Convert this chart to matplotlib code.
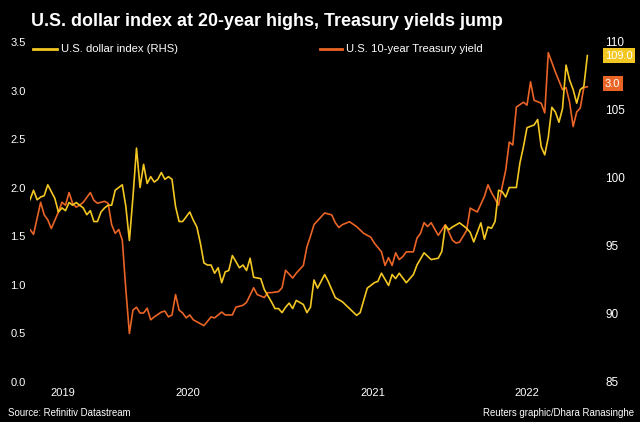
import numpy as np
import pandas as pd
import matplotlib
matplotlib.use('Agg')
import matplotlib.pyplot as plt
from matplotlib.lines import Line2D

# weekly readings, week number counted from start_date
start_date = '2019-08-26'

ust_weeks = [0, 1, 3, 4, 5, 6, 8, 9, 10, 11, 12, 13, 14, 15, 17, 18, 19, 21, 22, 23,
             24, 25, 26, 27, 28, 29, 30, 31, 32, 33, 34, 35, 37, 38, 39, 40, 41, 42, 43, 44,
             45, 46, 47, 49, 51, 52, 54, 55, 57, 58, 60, 61, 63, 64, 66, 67, 68, 70, 71, 72,
             74, 75, 77, 78, 79, 80, 82, 83, 85, 86, 87, 88, 90, 92, 94, 96, 97, 99, 100, 101,
             102, 103, 104, 105, 106, 108, 109, 110, 111, 112, 113, 115, 117, 119, 120, 121, 123, 124, 125, 126,
             128, 129, 130, 132, 133, 134, 135, 136, 137, 139, 140, 141, 142, 144, 145, 146, 147, 148, 150, 151,
             152, 153, 154, 155, 156, 157]
ust_vals = [1.57, 1.52, 1.85, 1.72, 1.67, 1.58, 1.75, 1.85, 1.82, 1.95, 1.84, 1.80, 1.82, 1.85, 1.95, 1.87, 1.84, 1.86, 1.84, 1.62,
            1.53, 1.57, 1.46, 0.95, 0.50, 0.74, 0.77, 0.71, 0.71, 0.76, 0.64, 0.67, 0.72, 0.73, 0.67, 0.69, 0.90, 0.74, 0.71, 0.66,
            0.69, 0.64, 0.62, 0.58, 0.67, 0.66, 0.72, 0.69, 0.69, 0.77, 0.79, 0.82, 0.97, 0.90, 0.87, 0.92, 0.92, 0.93, 0.97, 1.15,
            1.07, 1.12, 1.20, 1.39, 1.50, 1.62, 1.70, 1.74, 1.72, 1.64, 1.59, 1.62, 1.65, 1.60, 1.53, 1.49, 1.43, 1.34, 1.20, 1.28,
            1.20, 1.33, 1.26, 1.29, 1.34, 1.34, 1.48, 1.53, 1.64, 1.60, 1.64, 1.51, 1.62, 1.46, 1.43, 1.44, 1.56, 1.79, 1.77, 1.75,
            1.91, 2.03, 1.95, 1.82, 2.01, 2.18, 2.47, 2.44, 2.83, 2.88, 2.85, 3.09, 2.90, 2.87, 2.77, 3.39, 3.29, 3.19, 3.01, 3.03,
            2.88, 2.63, 2.78, 2.82, 3.03, 3.04]

dxy_weeks = [0, 1, 2, 3, 4, 5, 6, 7, 8, 9, 10, 11, 12, 13, 14, 15, 16, 17, 18, 19,
             20, 21, 22, 23, 24, 25, 26, 27, 28, 29, 30, 31, 32, 33, 34, 35, 36, 37, 38, 39,
             40, 41, 42, 43, 45, 46, 47, 48, 49, 50, 51, 52, 53, 54, 55, 56, 57, 59, 60, 61,
             62, 63, 65, 66, 68, 69, 70, 71, 72, 73, 74, 75, 77, 78, 79, 80, 81, 83, 84, 85,
             86, 88, 90, 92, 93, 94, 95, 97, 98, 99, 101, 102, 103, 104, 106, 108, 109, 111, 113, 115,
             116, 117, 118, 119, 121, 123, 124, 125, 126, 127, 128, 129, 130, 131, 132, 133, 134, 135, 137, 138,
             139, 140, 142, 143, 144, 145, 146, 147, 148, 149, 150, 151, 152, 153, 154, 155, 156, 157]
dxy_vals = [98.4, 99.1, 98.4, 98.6, 98.7, 99.5, 99.0, 98.5, 97.5, 97.8, 97.6, 98.2, 98.0, 98.2, 98.0, 97.8, 97.3, 97.6, 96.8, 96.8,
            97.5, 97.8, 98.0, 98.0, 99.1, 99.3, 99.5, 97.9, 95.4, 98.6, 102.2, 99.3, 101.0, 99.6, 100.1, 99.7, 99.9, 100.4, 99.9, 100.1,
            99.9, 97.9, 96.8, 96.8, 97.5, 96.9, 96.4, 95.2, 93.75, 93.6, 93.6, 93.0, 93.4, 92.3, 93.1, 93.2, 94.3, 93.4, 93.6, 93.2,
            94.1, 92.7, 92.6, 91.8, 90.9, 90.4, 90.4, 90.1, 90.5, 90.8, 90.4, 91.0, 90.7, 90.1, 90.5, 92.5, 91.9, 92.9, 92.4, 91.8,
            91.2, 90.9, 90.4, 89.9, 90.1, 91.0, 91.9, 92.3, 92.4, 93.0, 92.1, 92.9, 92.6, 93.0, 92.3, 92.9, 93.6, 94.5, 94.0, 94.1,
            94.6, 96.5, 96.2, 96.4, 96.7, 96.3, 96.0, 95.3, 96.0, 96.7, 95.5, 96.4, 96.3, 96.8, 99.1, 99.0, 98.6, 99.3, 99.3, 101.1,
            102.3, 103.7, 103.9, 104.3, 102.3, 101.7, 103.0, 105.2, 104.85, 104.1, 105.1, 108.3, 107.2, 106.5, 105.5, 106.5, 106.7, 109.0]

left_ticks = [0.0, 0.5, 1.0, 1.5, 2.0, 2.5, 3.0, 3.5]
right_ticks = [85, 90, 95, 100, 105, 110]

title = 'U.S. dollar index at 20-year highs, Treasury yields jump'
source = 'Source: Refinitiv Datastream'
credit = 'Reuters graphic/Dhara Ranasinghe'

YELLOW = '#f3c722'
ORANGE = '#ea6426'
NARROW = ['Liberation Sans Narrow', 'Liberation Sans', 'DejaVu Sans']


def to_dates(weeks):
    return pd.Timestamp(start_date) + pd.to_timedelta(np.array(weeks) * 7, unit='D')


def main():
    ust_dates = to_dates(ust_weeks)
    dxy_dates = to_dates(dxy_weeks)
    first = min(ust_dates[0], dxy_dates[0])
    last = max(ust_dates[-1], dxy_dates[-1])

    fig = plt.figure(figsize=(6.4, 4.22), dpi=100, facecolor='black')
    ax = fig.add_axes([30 / 640, 40 / 422, 560 / 640, 340 / 422])
    ax.set_facecolor('black')
    ax.plot(ust_dates, ust_vals, color=ORANGE, lw=1.2)
    ax2 = ax.twinx()
    ax2.plot(dxy_dates, dxy_vals, color=YELLOW, lw=1.2)

    ax.set_ylim(0, 3.5)
    ax2.set_ylim(85, 110)
    ax.set_xlim(first, first + pd.Timedelta(days=560 / 3.55 * 7))

    ax.set_yticks(left_ticks)
    ax.set_yticklabels([f'{t:.1f}' for t in left_ticks])
    ax2.set_yticks(right_ticks)
    ax2.set_yticklabels([str(t) for t in right_ticks])

    # year labels sit in the middle of the visible part of each year
    mids, labels = [], []
    for yr in range(first.year, last.year + 1):
        a = max(first, pd.Timestamp(yr, 1, 1))
        b = min(last, pd.Timestamp(yr + 1, 1, 1))
        mids.append(a + (b - a) / 2)
        labels.append(str(yr))
    ax.set_xticks(mids)
    ax.set_xticklabels(labels)

    for a in (ax, ax2):
        for s in a.spines.values():
            s.set_visible(False)
    ax.tick_params(axis='y', length=0, colors='white', labelsize=8, pad=3)
    ax.tick_params(axis='x', length=0, colors='white', labelsize=8, pad=4)
    ax2.tick_params(axis='y', length=0, colors='white', labelsize=8.5, pad=11)
    for lab in ax.get_xticklabels() + ax.get_yticklabels() + ax2.get_yticklabels():
        lab.set_family(NARROW)

    # last value boxes
    ax2.annotate(f'{dxy_vals[-1]:.1f}', xy=(1, dxy_vals[-1]), xycoords=('axes fraction', 'data'),
                 xytext=(15, 0), textcoords='offset pixels', ha='left', va='center',
                 color='white', fontsize=8, family=NARROW,
                 bbox=dict(boxstyle='square,pad=0.2', fc=YELLOW, ec='none'))
    ax.annotate(f'{ust_vals[-1]:.1f}', xy=(1, ust_vals[-1]), xycoords=('axes fraction', 'data'),
                xytext=(15, 3), textcoords='offset pixels', ha='left', va='center',
                color='white', fontsize=8, family=NARROW,
                bbox=dict(boxstyle='square,pad=0.2', fc=ORANGE, ec='none'))

    # legend keys
    ly = 1 - 49 / 422
    fig.add_artist(Line2D([33 / 640, 57 / 640], [ly, ly], color=YELLOW, lw=2))
    fig.text(61 / 640, ly, 'U.S. dollar index (RHS)', color='white', fontsize=8.1,
             va='center', family=NARROW)
    fig.add_artist(Line2D([320 / 640, 342 / 640], [ly, ly], color=ORANGE, lw=2))
    fig.text(346 / 640, ly, 'U.S. 10-year Treasury yield', color='white', fontsize=8.1,
             va='center', family=NARROW)

    fig.text(31 / 640, 1 - 21 / 422, title, color='white', fontsize=12.9, weight='bold',
             va='center', family=['Liberation Sans', 'DejaVu Sans'])
    fig.text(8 / 640, 1 - 413 / 422, source, color='white', fontsize=6.9, va='center', family=NARROW)
    fig.text(634 / 640, 1 - 413 / 422, credit, color='white', fontsize=6.9, va='center',
             ha='right', family=NARROW)

    fig.savefig('out.png', dpi=100, facecolor='black')
    plt.close()


if __name__ == '__main__':
    main()
